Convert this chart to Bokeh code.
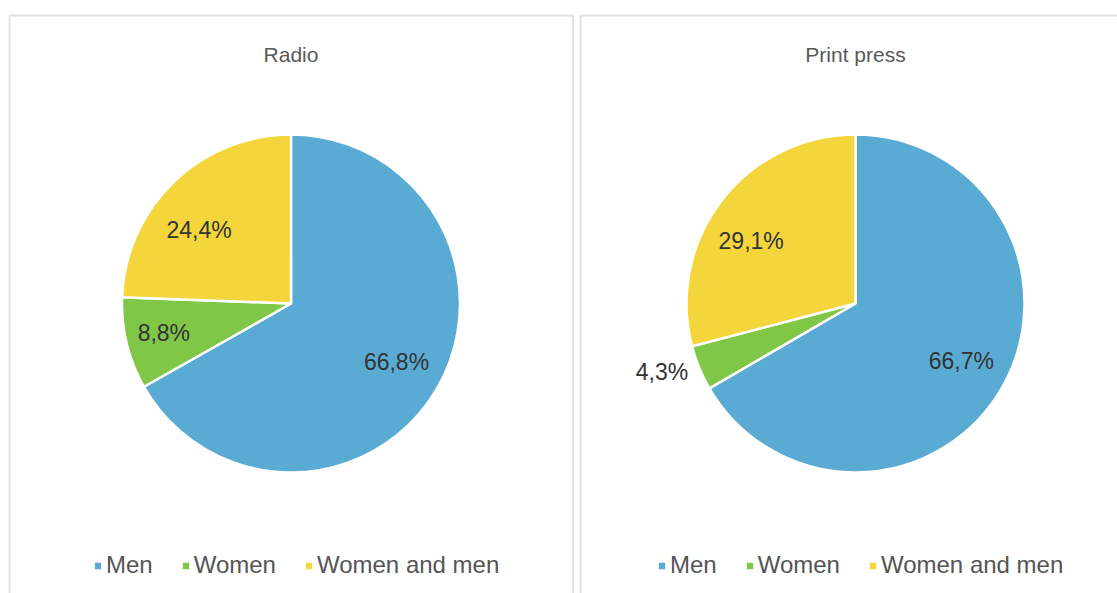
import math
from bokeh.plotting import figure
from bokeh.models import Range1d, ColumnDataSource, Legend, LegendItem
from bokeh.core.properties import value
from bokeh.embed import file_html
from bokeh.resources import INLINE

# ---- data ----
categories = ["Men", "Women", "Women and men"]
colors = ["#5aabd4", "#80c747", "#f4d63c"]
panel_titles = ["Radio", "Print press"]
radio_values = [66.8, 8.8, 24.4]
print_values = [66.7, 4.3, 29.1]

# ---- layout (screen pixels of the page) ----
W, H = 1117, 593


def sx(x):
    return x


def sy(y):
    return H - y


FONT = "Liberation Sans"
R = 169
pie_centers = [(290.5, 303.0), (855.0, 303.0)]
legend_x = [92, 656]

p = figure(width=W, height=H, x_range=Range1d(0, W), y_range=Range1d(0, H),
           output_backend="svg", toolbar_location=None, min_border=0)
p.axis.visible = False
p.grid.visible = False
p.outline_line_color = None
p.background_fill_color = "white"
p.border_fill_color = "white"

# panel borders
p.quad(left=[sx(9), sx(580)], right=[sx(572.5), sx(1400)],
       top=[sy(15), sy(15)], bottom=[sy(900), sy(900)],
       fill_color=None, line_color="#e2e2e2", line_width=2)

# titles
p.text(x=[sx(c[0]) for c in pie_centers], y=[sy(54)] * 2, text=panel_titles,
       text_align="center", text_baseline="middle",
       text_font=value(FONT), text_font_size="21px", text_color="#595959")

for k, vals in enumerate([radio_values, print_values]):
    cx, cy = pie_centers[k]
    total = sum(vals)
    starts, ends, lx, ly, ltxt, lalign = [], [], [], [], [], []
    cum = 0.0
    for v in vals:
        a0 = math.pi / 2 - 2 * math.pi * cum / total
        cum += v
        a1 = math.pi / 2 - 2 * math.pi * cum / total
        starts.append(a0)
        ends.append(a1)
        mid = (a0 + a1) / 2
        share = v / total
        if share < 0.05:
            px = sx(cx) + (R + 12) * math.cos(mid)
            py = sy(cy) + (R + 12) * math.sin(mid)
            align = "right" if math.cos(mid) < 0 else "left"
        else:
            px = sx(cx) + 0.75 * R * math.cos(mid) - 4
            py = sy(cy) + 0.64 * R * math.sin(mid) - 4
            align = "center"
        lx.append(px)
        ly.append(py)
        ltxt.append(f"{v:.1f}".replace(".", ",") + "%")
        lalign.append(align)

    src = ColumnDataSource(dict(start=starts, end=ends, color=colors, cat=categories))
    wr = p.wedge(x=sx(cx), y=sy(cy), radius=R, start_angle="start", end_angle="end",
                 direction="clock", fill_color="color", line_color="white",
                 line_width=2.5, source=src)

    lsrc = ColumnDataSource(dict(x=lx, y=ly, t=ltxt, a=lalign))
    p.text(x="x", y="y", text="t", text_align="a", text_baseline="middle",
           text_font=value(FONT), text_font_size="23px", text_color="#333333",
           source=lsrc)

    legend = Legend(
        items=[LegendItem(label=categories[i], renderers=[wr], index=i) for i in range(3)],
        orientation="horizontal", location=(legend_x[k], 14),
        glyph_width=11, glyph_height=11, label_standoff=3, spacing=27,
        padding=0, margin=0, border_line_alpha=0, background_fill_alpha=0,
        label_text_font=FONT, label_text_font_size="24px", label_text_color="#555555",
    )
    p.add_layout(legend, "center")

open("out.html", "w").write(file_html(p, INLINE))
